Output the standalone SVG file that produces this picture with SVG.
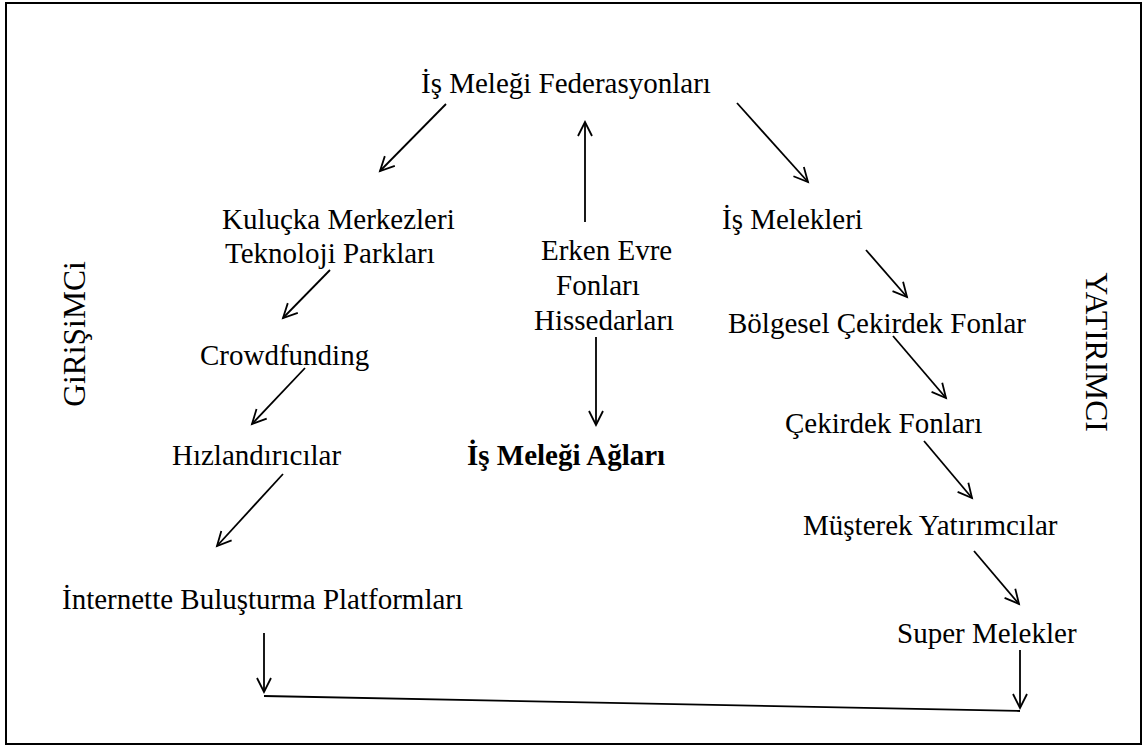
<svg xmlns="http://www.w3.org/2000/svg" width="1143" height="746" viewBox="0 0 1143 746">
<style>
text{font-family:"Liberation Serif","Times New Roman",serif;font-size:29px;fill:#000}
.b{font-weight:bold}
.v{font-size:31.5px}
.c{stroke:#000;stroke-width:1.8;fill:none}
</style>
<defs>
<marker id="ah" viewBox="0 0 20 20" refX="16" refY="10" markerWidth="20" markerHeight="20" markerUnits="userSpaceOnUse" orient="auto">
<path d="M2,3 L16,10 L2,17" fill="none" stroke="#000" stroke-width="1.8"/>
</marker>
</defs>
<rect x="0" y="0" width="1143" height="746" fill="#fff"/>
<rect x="6" y="3" width="1135" height="741" fill="none" stroke="#000" stroke-width="2"/>
<g id="n-federasyon"><text x="421" y="93">İş Meleği Federasyonları</text></g>
<g id="n-kulucka"><text x="222" y="229">Kuluçka Merkezleri</text><text x="225" y="263">Teknoloji Parkları</text></g>
<g id="n-erken"><text x="541" y="260">Erken Evre</text><text x="556" y="295">Fonları</text><text x="534" y="330">Hissedarları</text></g>
<g id="n-melekleri"><text x="722" y="229">İş Melekleri</text></g>
<g id="n-crowd"><text x="200" y="365">Crowdfunding</text></g>
<g id="n-bolgesel"><text x="728" y="333">Bölgesel Çekirdek Fonlar</text></g>
<g id="n-hizland"><text x="172" y="465">Hızlandırıcılar</text></g>
<g id="n-aglari"><text class="b" x="467" y="465">İş Meleği Ağları</text></g>
<g id="n-cekirdek"><text x="785" y="433">Çekirdek Fonları</text></g>
<g id="n-musterek"><text x="803" y="535">Müşterek Yatırımcılar</text></g>
<g id="n-internet"><text x="62" y="609">İnternette Buluşturma Platformları</text></g>
<g id="n-super"><text x="897" y="643">Super Melekler</text></g>
<g id="n-girisimci"><text class="v" transform="translate(85,334) rotate(-90)" text-anchor="middle">GiRiŞiMCi</text></g>
<g id="n-yatirimci"><text class="v" transform="translate(1086,352) rotate(90)" text-anchor="middle">YATIRIMCI</text></g>
<g id="connectors">
<line class="c" x1="446" y1="104" x2="380" y2="171" marker-end="url(#ah)"/>
<line class="c" x1="585" y1="222" x2="585" y2="122" marker-end="url(#ah)"/>
<line class="c" x1="737" y1="103" x2="808" y2="182" marker-end="url(#ah)"/>
<line class="c" x1="330" y1="270" x2="283" y2="318" marker-end="url(#ah)"/>
<line class="c" x1="866" y1="250" x2="907" y2="297" marker-end="url(#ah)"/>
<line class="c" x1="596" y1="337" x2="596" y2="425" marker-end="url(#ah)"/>
<line class="c" x1="305" y1="368" x2="252" y2="424" marker-end="url(#ah)"/>
<line class="c" x1="893" y1="336" x2="946" y2="398" marker-end="url(#ah)"/>
<line class="c" x1="283" y1="474" x2="217" y2="546" marker-end="url(#ah)"/>
<line class="c" x1="924" y1="441" x2="972" y2="498" marker-end="url(#ah)"/>
<line class="c" x1="974" y1="551" x2="1019" y2="604" marker-end="url(#ah)"/>
<line class="c" x1="264" y1="633" x2="264" y2="692" marker-end="url(#ah)"/>
<line class="c" x1="1020" y1="650" x2="1020" y2="708" marker-end="url(#ah)"/>
<line class="c" x1="264" y1="696" x2="1020" y2="711"/>
</g>
</svg>
